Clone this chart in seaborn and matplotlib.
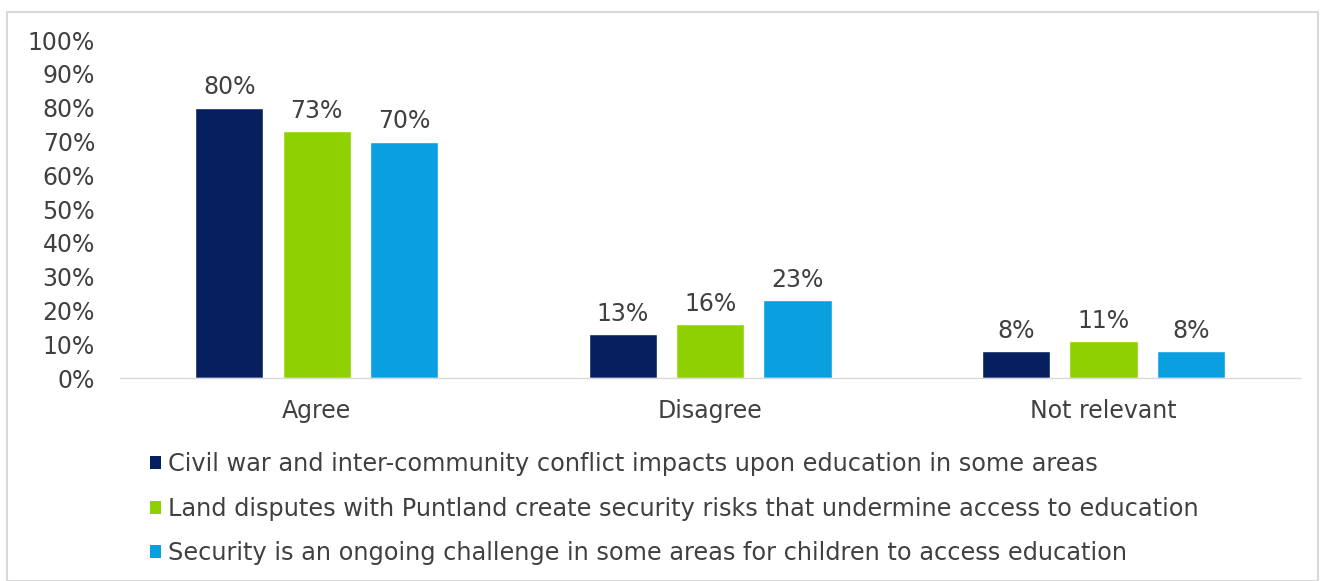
import matplotlib
matplotlib.use("Agg")
import matplotlib.pyplot as plt
from matplotlib.patches import Rectangle, Patch
import seaborn as sns
import pandas as pd

categories = ["Agree", "Disagree", "Not relevant"]
series_names = [
    "Civil war and inter-community conflict impacts upon education in some areas",
    "Land disputes with Puntland create security risks that undermine access to education",
    "Security is an ongoing challenge in some areas for children to access education",
]
civil_war = [80, 13, 8]
land_disputes = [73, 16, 11]
security = [70, 23, 8]
colors = ["#06205f", "#8fd100", "#0aa0e0"]
y_ticks = [0, 10, 20, 30, 40, 50, 60, 70, 80, 90, 100]

rows = []
for name, vals in zip(series_names, [civil_war, land_disputes, security]):
    for cat, v in zip(categories, vals):
        rows.append({"category": cat, "series": name, "value": v})
df = pd.DataFrame(rows)

sns.set_theme(style="white")
plt.rcParams["font.family"] = ["DejaVu Sans"]
text_color = "#404040"
fs = 17

fig = plt.figure(figsize=(13.28, 5.81), dpi=100)
ax = fig.add_axes([0.0904, 0.349, 0.8886, 0.582])

sns.barplot(data=df, x="category", y="value", hue="series", order=categories,
            hue_order=series_names, palette=colors, width=0.667, gap=0.22,
            saturation=1, legend=False, ax=ax)

for container in ax.containers:
    ax.bar_label(container, labels=[f"{v:.0f}%" for v in container.datavalues],
                 padding=6, fontsize=fs, color=text_color)

ax.set_xlim(-0.5, 2.5)
ax.set_ylim(0, 100)
ax.set_yticks(y_ticks)
ax.set_yticklabels([f"{t}%" for t in y_ticks])
ax.tick_params(axis="y", length=0, pad=18, labelsize=fs, labelcolor=text_color)
ax.tick_params(axis="x", length=0, pad=15, labelsize=fs, labelcolor=text_color)
ax.set_xlabel("")
ax.set_ylabel("")
for side in ["top", "right", "left"]:
    ax.spines[side].set_visible(False)
ax.spines["bottom"].set_color("#d9d9d9")
ax.spines["bottom"].set_linewidth(1)

handles = [Patch(facecolor=c, edgecolor="none") for c in colors]
fig.legend(handles, series_names, loc="upper left",
           bbox_to_anchor=(0.104, 0.242), frameon=False, fontsize=17.3,
           labelcolor=text_color, handlelength=0.45, handleheight=0.45,
           handletextpad=0.3, labelspacing=0.85, borderpad=0)

# chart frame
fig.patches.append(Rectangle((7 / 1328, 0), 1311 / 1328, 1 - 12 / 581,
                             transform=fig.transFigure, fill=False,
                             edgecolor="#d9d9d9", linewidth=1.5))

fig.savefig("out.png", dpi=100)
